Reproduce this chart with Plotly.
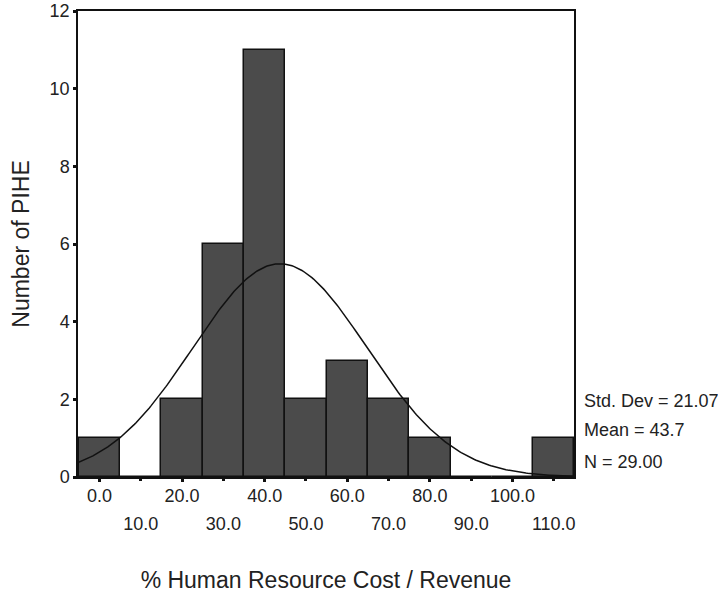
import numpy as np
import plotly.graph_objects as go

# Histogram bins (centers) and counts
bin_centers = [0, 10, 20, 30, 40, 50, 60, 70, 80, 90, 100, 110]
counts = [1, 0, 2, 6, 11, 2, 3, 2, 1, 0, 0, 1]
bin_width = 10

# Summary statistics shown on the chart
std_dev = 21.07
mean = 43.7
n = 29

even_ticks = [0, 20, 40, 60, 80, 100]
odd_ticks = [10, 30, 50, 70, 90, 110]
y_ticks = [0, 2, 4, 6, 8, 10, 12]

FONT = "Liberation Sans, Arial, sans-serif"

# Normal curve fitted with the chart's mean / std dev, scaled to counts
xc = np.linspace(-5.2, 114.9, 300)
yc = n * bin_width / (std_dev * np.sqrt(2 * np.pi)) * np.exp(-0.5 * ((xc - mean) / std_dev) ** 2)

fig = go.Figure()
fig.add_trace(go.Bar(
    x=bin_centers, y=counts, width=bin_width,
    marker=dict(color="#4b4b4b", line=dict(color="#111111", width=1.5)),
    showlegend=False, hoverinfo="x+y",
))
fig.add_trace(go.Scatter(
    x=xc, y=yc, mode="lines",
    line=dict(color="#111111", width=1.5),
    showlegend=False, hoverinfo="skip",
))
# invisible trace on the second x axis so that it is drawn
fig.add_trace(go.Scatter(x=[0], y=[0], xaxis="x2", mode="markers",
                         marker=dict(opacity=0), showlegend=False, hoverinfo="skip"))

fig.update_layout(
    width=718, height=595,
    margin=dict(l=78, r=144, t=11, b=118),
    paper_bgcolor="white", plot_bgcolor="white",
    font=dict(family=FONT, size=18, color="#222222"),
    bargap=0,
    xaxis=dict(
        range=[-5.2, 114.9],
        tickvals=even_ticks,
        ticktext=[f"{v:.1f}" for v in even_ticks],
        ticks="outside", ticklen=3, tickwidth=3, tickcolor="#111111",
        ticklabelstandoff=-1,
        showline=True, linecolor="#111111", linewidth=1.5, mirror=True,
        showgrid=False, zeroline=False, automargin=False,
        tickfont=dict(size=18, family=FONT),
    ),
    xaxis2=dict(
        overlaying="x", matches="x", anchor="y", side="bottom",
        range=[-5.2, 114.9],
        tickvals=odd_ticks,
        ticktext=[f"{v:.1f}" for v in odd_ticks],
        ticks="outside", ticklen=3, tickwidth=3, tickcolor="#111111",
        ticklabelstandoff=27,
        showline=False, showgrid=False, zeroline=False, automargin=False,
        tickfont=dict(size=18, family=FONT),
        title=dict(text="% Human Resource Cost / Revenue",
                   font=dict(size=23, family=FONT), standoff=39),
    ),
    yaxis=dict(
        range=[0, 12],
        tickvals=y_ticks,
        ticks="outside", ticklen=3, tickwidth=3, tickcolor="#111111",
        showline=True, linecolor="#111111", linewidth=1.5, mirror=True,
        showgrid=False, zeroline=False, automargin=False,
        tickfont=dict(size=18, family=FONT),
        title=dict(text="Number of PIHE", font=dict(size=23, family=FONT), standoff=14),
    ),
)

stats = [(f"Std. Dev = {std_dev:.2f}", 1.96),
         (f"Mean = {mean}", 1.21),
         (f"N = {n:.2f}", 0.39)]
for txt, yv in stats:
    fig.add_annotation(text=txt, xref="paper", x=1.016, xanchor="left",
                       yref="y", y=yv, yanchor="middle", showarrow=False,
                       font=dict(size=18, family=FONT, color="#222222"))

fig.write_html("out.html")
